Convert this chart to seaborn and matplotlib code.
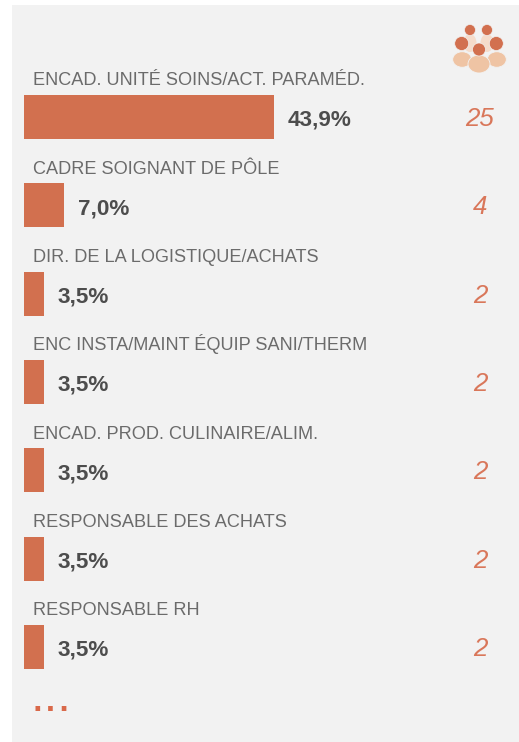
import matplotlib
matplotlib.use("Agg")
import matplotlib.pyplot as plt
from matplotlib.patches import Circle, Ellipse, Rectangle
import pandas as pd
import seaborn as sns

categories = ["ENCAD. UNITÉ SOINS/ACT. PARAMÉD.", "CADRE SOIGNANT DE PÔLE",
              "DIR. DE LA LOGISTIQUE/ACHATS", "ENC INSTA/MAINT ÉQUIP SANI/THERM",
              "ENCAD. PROD. CULINAIRE/ALIM.", "RESPONSABLE DES ACHATS", "RESPONSABLE RH"]
shares = [43.9, 7.0, 3.5, 3.5, 3.5, 3.5, 3.5]
share_labels = ["43,9%", "7,0%", "3,5%", "3,5%", "3,5%", "3,5%", "3,5%"]
counts = [25, 4, 2, 2, 2, 2, 2]

W, H = 519, 742
ORANGE = "#D2704F"
PANEL = "#F2F2F2"
sns.set_theme(style="white")
plt.rcParams["font.family"] = ["Liberation Sans", "DejaVu Sans"]

fig = plt.figure(figsize=(W / 100, H / 100), dpi=100, facecolor="white")

# backdrop layer in pixel units: panel, people icon and continuation dots
bg = fig.add_axes([0, 0, 1, 1], zorder=0)
bg.set_xlim(0, W)
bg.set_ylim(H, 0)
bg.axis("off")
bg.add_patch(Rectangle((12, 5), W - 12, H - 5, color=PANEL, lw=0))
SKIN = "#EFC4A4"
for cx, cy, w, h in [(470, 43, 13, 18), (487, 43, 13, 18)]:
    bg.add_patch(Ellipse((cx, cy), w, h, color="#F5DCCB", lw=0))
for cx, cy, w, h in [(462.2, 59.5, 19, 15.5), (496.8, 59.5, 19, 15.5), (479, 64, 22, 18)]:
    bg.add_patch(Ellipse((cx, cy), w, h, facecolor=SKIN, edgecolor=PANEL, lw=0.6))
for cx, cy, r in [(470, 30, 5.5), (487, 30, 5.5), (461.7, 43.5, 7), (496.3, 43.5, 7), (479, 49.5, 6.5)]:
    bg.add_patch(Circle((cx, cy), r, facecolor=ORANGE, edgecolor=PANEL, lw=0.5))
bg.text(30.5, 711, "...", fontsize=35, color="#D9694A", ha="left", va="baseline")

# bars
df = pd.DataFrame({"cat": categories, "share": shares})
ax = fig.add_axes([24 / W, 1 - 691.2 / H, 495 / W, 618.4 / H], zorder=1)
ax.patch.set_alpha(0)
sns.barplot(data=df, x="share", y="cat", color=ORANGE, saturation=1, width=0.5,
            orient="h", linewidth=0, edgecolor="none", ax=ax)
ax.set_xlim(0, 495 / 5.695)
ax.set_ylim(6.5, -0.5)
ax.axis("off")

for i, (cat, s, lab, n) in enumerate(zip(categories, shares, share_labels, counts)):
    ax.annotate(cat, xy=(0, i), xytext=(6.6, 22.9), textcoords="offset points",
                fontsize=13.1, color="#6B6B6B", ha="left", va="baseline")
    ax.annotate(lab, xy=(s, i), xytext=(10, -6.4), textcoords="offset points",
                fontsize=16.2, fontweight="bold", color="#4D4D4D", ha="left", va="baseline")
    ax.annotate(str(n), xy=((480 - 24) / 495, i), xycoords=("axes fraction", "data"),
                xytext=(0, -6.4), textcoords="offset points",
                fontsize=18.6, fontstyle="italic", color="#D9775A", ha="center", va="baseline")

fig.savefig("out.png", dpi=100)
